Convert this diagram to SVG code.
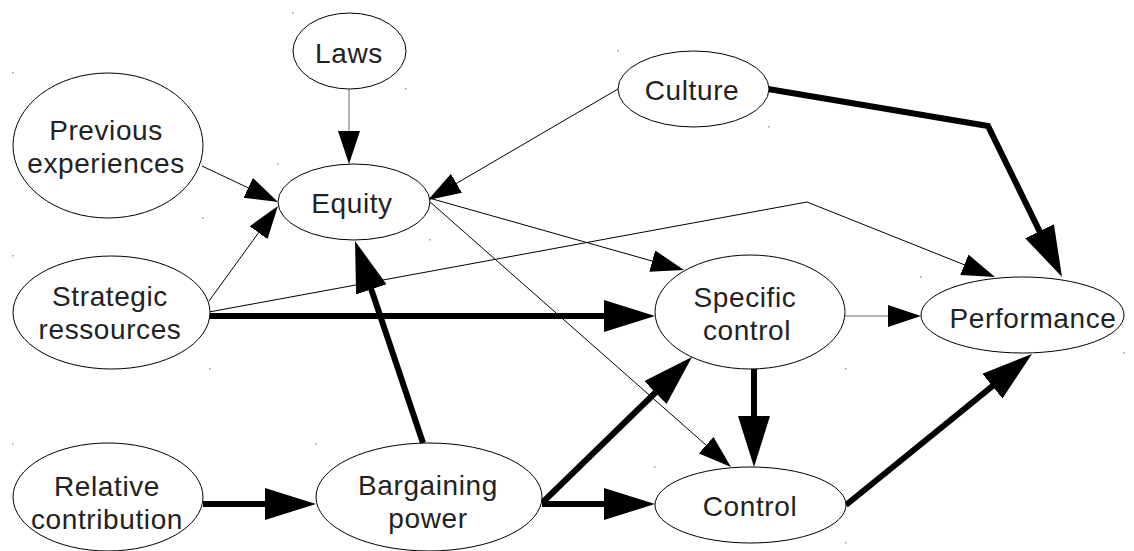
<svg xmlns="http://www.w3.org/2000/svg" width="1134" height="551" viewBox="0 0 1134 551">
<style>
.n ellipse{fill:#fff;stroke:#000;stroke-width:1}
.n text{font-family:"Liberation Sans",Arial,sans-serif;font-size:28px;letter-spacing:0.6px;fill:#222;text-anchor:middle}
.thin{fill:none;stroke:#000;stroke-width:1;marker-end:url(#ah)}
.gray{stroke:#666}
.thick{fill:none;stroke:#000;stroke-width:6;stroke-linejoin:miter;marker-end:url(#AH)}
.dot{fill:#999}
</style>
<defs>
<marker id="ah" markerUnits="userSpaceOnUse" markerWidth="34" markerHeight="23" refX="30" refY="11" orient="auto" viewBox="0 0 34 23"><path d="M0,0 L33,11 L0,22 z" fill="#000"/></marker>
<marker id="AH" markerUnits="userSpaceOnUse" markerWidth="52" markerHeight="33" refX="41" refY="16" orient="auto" viewBox="0 0 52 33"><path d="M0,0 L51,16 L0,32 z" fill="#000"/></marker>
</defs>
<rect width="1134" height="551" fill="#fff"/>
<g id="dots">
<rect class="dot" x="292" y="12" width="1.5" height="1.5"/><rect class="dot" x="405" y="88" width="1.5" height="1.5"/>
<rect class="dot" x="12" y="72" width="1.5" height="1.5"/><rect class="dot" x="202" y="217" width="1.5" height="1.5"/>
<rect class="dot" x="277" y="163" width="1.5" height="1.5"/><rect class="dot" x="429" y="239" width="1.5" height="1.5"/>
<rect class="dot" x="617" y="50" width="1.5" height="1.5"/><rect class="dot" x="768" y="126" width="1.5" height="1.5"/>
<rect class="dot" x="12" y="255" width="1.5" height="1.5"/><rect class="dot" x="209" y="368" width="1.5" height="1.5"/>
<rect class="dot" x="12" y="443" width="1.5" height="1.5"/><rect class="dot" x="315" y="443" width="1.5" height="1.5"/>
<rect class="dot" x="654" y="254" width="1.5" height="1.5"/><rect class="dot" x="845" y="368" width="1.5" height="1.5"/>
<rect class="dot" x="654" y="466" width="1.5" height="1.5"/><rect class="dot" x="845" y="542" width="1.5" height="1.5"/>
<rect class="dot" x="920" y="276" width="1.5" height="1.5"/><rect class="dot" x="1123" y="352" width="1.5" height="1.5"/>
</g>
<g id="connectors">
<path class="thin gray" d="M349,89 L349,161"/>
<path class="thin" d="M202,166 L275.3,200.7"/>
<path class="thin" d="M209,301 L276.2,208.4"/>
<path class="thin" d="M618,89 L430.6,198.5"/>
<path class="thin" d="M429,198 L681.1,269.2"/>
<path class="thin" d="M429,201 L728.7,465"/>
<path class="thin" d="M209,312 L807,202 L992.2,275.9"/>
<path class="thin gray" d="M844,316 L918,316"/>
<path class="thick" d="M209,316 L645,316"/>
<path class="thick" d="M203,504 L306,504"/>
<path class="thick" d="M542,504 L645,504"/>
<path class="thick" d="M754,369 L754,457"/>
<path class="thick" d="M542,503 L684.8,364"/>
<path class="thick" d="M846,505 L1024.2,360.3"/>
<path class="thick" d="M423,443 L358.2,250.5"/>
<path class="thick" d="M768,89 L988,126 L1057.6,268"/>
</g>
<g id="laws" class="n"><ellipse cx="349.5" cy="51" rx="56.5" ry="38"/><text x="349" y="62.5">Laws</text></g>
<g id="previous" class="n"><ellipse cx="108" cy="145.5" rx="95" ry="72.5"/><text x="106" y="139.5">Previous</text><text x="106" y="173">experiences</text></g>
<g id="equity" class="n"><ellipse cx="354" cy="202" rx="76" ry="38"/><text x="352" y="213">Equity</text></g>
<g id="culture" class="n"><ellipse cx="693.5" cy="89" rx="75.5" ry="38"/><text x="692" y="99.5">Culture</text></g>
<g id="strategic" class="n"><ellipse cx="111.5" cy="312.5" rx="98.5" ry="56.5"/><text x="110" y="306">Strategic</text><text x="110" y="339">ressources</text></g>
<g id="relative" class="n"><ellipse cx="108" cy="497" rx="95" ry="54"/><text x="107" y="496">Relative</text><text x="107" y="529">contribution</text></g>
<g id="bargaining" class="n"><ellipse cx="429" cy="497" rx="113" ry="54"/><text x="428" y="495">Bargaining</text><text x="428" y="528">power</text></g>
<g id="specific" class="n"><ellipse cx="750" cy="312" rx="95" ry="57"/><text x="745" y="307">Specific</text><text x="747" y="340">control</text></g>
<g id="performance" class="n"><ellipse cx="1022.5" cy="315" rx="101.5" ry="38"/><text x="1033" y="327.5">Performance</text></g>
<g id="control" class="n"><ellipse cx="750.5" cy="505" rx="95.5" ry="38"/><text x="750" y="516">Control</text></g>
</svg>
